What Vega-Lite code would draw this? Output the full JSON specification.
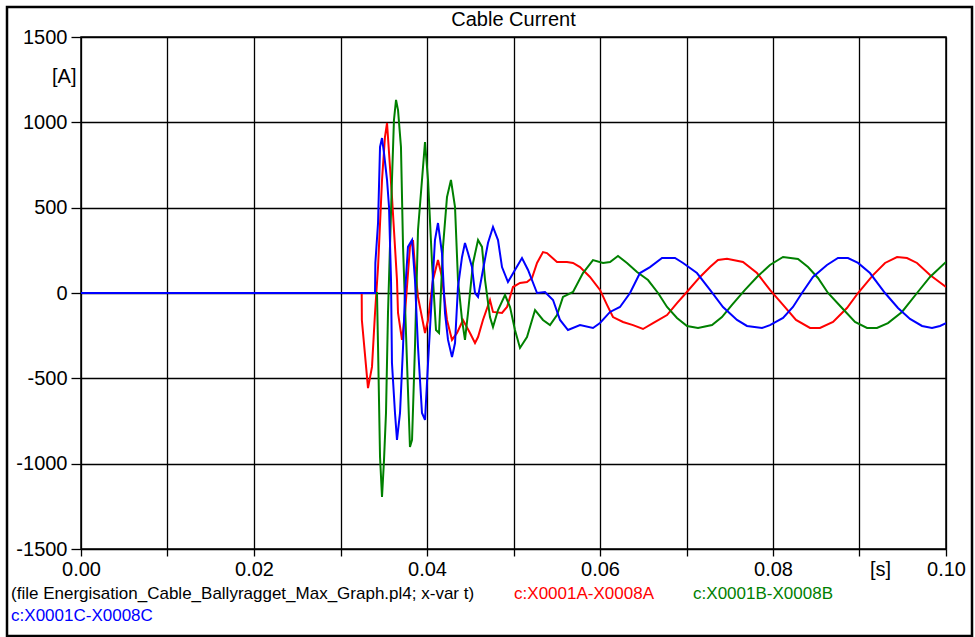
{
  "$schema": "https://vega.github.io/schema/vega-lite/v6.json",
  "width": 865,
  "height": 512,
  "autosize": {"type": "none"},
  "padding": {"left": 81, "top": 37, "right": 29, "bottom": 88},
  "background": "#ffffff",
  "config": {
    "font": "Liberation Sans",
    "view": {"stroke": "#000000", "strokeWidth": 1.5}
  },
  "title": {
    "text": "Cable Current",
    "font": "Liberation Sans",
    "fontSize": 20,
    "fontWeight": "normal",
    "color": "#000000",
    "anchor": "middle",
    "frame": "group",
    "baseline": "bottom",
    "offset": 8,
    "dy": 52
  },
  "datasets": {
    "currents": [
      {"t": 0, "i": 0, "c": "A"},
      {"t": 0.03245, "i": 0, "c": "A"},
      {"t": 0.03247, "i": -158, "c": "A"},
      {"t": 0.03318, "i": -557, "c": "A"},
      {"t": 0.03364, "i": -433, "c": "A"},
      {"t": 0.03399, "i": -117, "c": "A"},
      {"t": 0.03434, "i": 152, "c": "A"},
      {"t": 0.0348, "i": 662, "c": "A"},
      {"t": 0.03514, "i": 914, "c": "A"},
      {"t": 0.03538, "i": 996, "c": "A"},
      {"t": 0.03572, "i": 738, "c": "A"},
      {"t": 0.03595, "i": 563, "c": "A"},
      {"t": 0.03653, "i": 76, "c": "A"},
      {"t": 0.03665, "i": -117, "c": "A"},
      {"t": 0.03711, "i": -275, "c": "A"},
      {"t": 0.03746, "i": -117, "c": "A"},
      {"t": 0.03803, "i": 270, "c": "A"},
      {"t": 0.03838, "i": 310, "c": "A"},
      {"t": 0.03861, "i": 152, "c": "A"},
      {"t": 0.03896, "i": -23, "c": "A"},
      {"t": 0.03977, "i": -234, "c": "A"},
      {"t": 0.04012, "i": -158, "c": "A"},
      {"t": 0.04069, "i": 76, "c": "A"},
      {"t": 0.04127, "i": 193, "c": "A"},
      {"t": 0.04173, "i": 94, "c": "A"},
      {"t": 0.04231, "i": -158, "c": "A"},
      {"t": 0.04289, "i": -275, "c": "A"},
      {"t": 0.04347, "i": -234, "c": "A"},
      {"t": 0.04416, "i": -158, "c": "A"},
      {"t": 0.04497, "i": -234, "c": "A"},
      {"t": 0.04555, "i": -293, "c": "A"},
      {"t": 0.0459, "i": -258, "c": "A"},
      {"t": 0.04647, "i": -158, "c": "A"},
      {"t": 0.04728, "i": -41, "c": "A"},
      {"t": 0.04763, "i": -111, "c": "A"},
      {"t": 0.04867, "i": -117, "c": "A"},
      {"t": 0.04925, "i": -82, "c": "A"},
      {"t": 0.0496, "i": -23, "c": "A"},
      {"t": 0.04994, "i": 35, "c": "A"},
      {"t": 0.05075, "i": 59, "c": "A"},
      {"t": 0.05156, "i": 64, "c": "A"},
      {"t": 0.05214, "i": 88, "c": "A"},
      {"t": 0.05272, "i": 176, "c": "A"},
      {"t": 0.05341, "i": 240, "c": "A"},
      {"t": 0.05387, "i": 234, "c": "A"},
      {"t": 0.05503, "i": 182, "c": "A"},
      {"t": 0.05618, "i": 182, "c": "A"},
      {"t": 0.05688, "i": 176, "c": "A"},
      {"t": 0.05769, "i": 152, "c": "A"},
      {"t": 0.05884, "i": 94, "c": "A"},
      {"t": 0.06, "i": 18, "c": "A"},
      {"t": 0.06081, "i": -70, "c": "A"},
      {"t": 0.0615, "i": -141, "c": "A"},
      {"t": 0.06266, "i": -170, "c": "A"},
      {"t": 0.06382, "i": -188, "c": "A"},
      {"t": 0.06497, "i": -211, "c": "A"},
      {"t": 0.06613, "i": -176, "c": "A"},
      {"t": 0.06775, "i": -129, "c": "A"},
      {"t": 0.0689, "i": -59, "c": "A"},
      {"t": 0.06994, "i": 0, "c": "A"},
      {"t": 0.07156, "i": 94, "c": "A"},
      {"t": 0.07272, "i": 152, "c": "A"},
      {"t": 0.07364, "i": 193, "c": "A"},
      {"t": 0.07468, "i": 200, "c": "A"},
      {"t": 0.07653, "i": 182, "c": "A"},
      {"t": 0.07815, "i": 117, "c": "A"},
      {"t": 0.07965, "i": 18, "c": "A"},
      {"t": 0.08116, "i": -70, "c": "A"},
      {"t": 0.08266, "i": -158, "c": "A"},
      {"t": 0.08428, "i": -205, "c": "A"},
      {"t": 0.08543, "i": -205, "c": "A"},
      {"t": 0.08694, "i": -170, "c": "A"},
      {"t": 0.08855, "i": -88, "c": "A"},
      {"t": 0.08983, "i": 0, "c": "A"},
      {"t": 0.09156, "i": 105, "c": "A"},
      {"t": 0.09295, "i": 176, "c": "A"},
      {"t": 0.09434, "i": 211, "c": "A"},
      {"t": 0.09549, "i": 205, "c": "A"},
      {"t": 0.09665, "i": 176, "c": "A"},
      {"t": 0.09815, "i": 105, "c": "A"},
      {"t": 0.1, "i": 35, "c": "A"},

      {"t": 0, "i": 0, "c": "B"},
      {"t": 0.03422, "i": 0, "c": "B"},
      {"t": 0.03434, "i": -316, "c": "B"},
      {"t": 0.03457, "i": -961, "c": "B"},
      {"t": 0.0348, "i": -1195, "c": "B"},
      {"t": 0.03503, "i": -979, "c": "B"},
      {"t": 0.03526, "i": -703, "c": "B"},
      {"t": 0.03549, "i": -117, "c": "B"},
      {"t": 0.03595, "i": 662, "c": "B"},
      {"t": 0.03618, "i": 1014, "c": "B"},
      {"t": 0.03642, "i": 1131, "c": "B"},
      {"t": 0.03665, "i": 1072, "c": "B"},
      {"t": 0.03699, "i": 856, "c": "B"},
      {"t": 0.03723, "i": 270, "c": "B"},
      {"t": 0.03769, "i": -410, "c": "B"},
      {"t": 0.03803, "i": -902, "c": "B"},
      {"t": 0.03827, "i": -861, "c": "B"},
      {"t": 0.03861, "i": -316, "c": "B"},
      {"t": 0.03896, "i": 369, "c": "B"},
      {"t": 0.03942, "i": 662, "c": "B"},
      {"t": 0.03977, "i": 885, "c": "B"},
      {"t": 0.04012, "i": 662, "c": "B"},
      {"t": 0.04058, "i": 176, "c": "B"},
      {"t": 0.04104, "i": -217, "c": "B"},
      {"t": 0.04139, "i": -234, "c": "B"},
      {"t": 0.04185, "i": 270, "c": "B"},
      {"t": 0.04231, "i": 562, "c": "B"},
      {"t": 0.04277, "i": 662, "c": "B"},
      {"t": 0.04324, "i": 504, "c": "B"},
      {"t": 0.04358, "i": 76, "c": "B"},
      {"t": 0.04405, "i": -158, "c": "B"},
      {"t": 0.04439, "i": -275, "c": "B"},
      {"t": 0.04474, "i": -117, "c": "B"},
      {"t": 0.04532, "i": 176, "c": "B"},
      {"t": 0.0459, "i": 310, "c": "B"},
      {"t": 0.04636, "i": 270, "c": "B"},
      {"t": 0.04671, "i": 76, "c": "B"},
      {"t": 0.04728, "i": -141, "c": "B"},
      {"t": 0.04763, "i": -199, "c": "B"},
      {"t": 0.04821, "i": -100, "c": "B"},
      {"t": 0.04902, "i": -12, "c": "B"},
      {"t": 0.0496, "i": -82, "c": "B"},
      {"t": 0.05017, "i": -217, "c": "B"},
      {"t": 0.05075, "i": -322, "c": "B"},
      {"t": 0.05156, "i": -258, "c": "B"},
      {"t": 0.05249, "i": -100, "c": "B"},
      {"t": 0.05341, "i": -158, "c": "B"},
      {"t": 0.05422, "i": -188, "c": "B"},
      {"t": 0.05503, "i": -129, "c": "B"},
      {"t": 0.05572, "i": -23, "c": "B"},
      {"t": 0.05688, "i": 6, "c": "B"},
      {"t": 0.05803, "i": 117, "c": "B"},
      {"t": 0.05919, "i": 193, "c": "B"},
      {"t": 0.06035, "i": 176, "c": "B"},
      {"t": 0.06116, "i": 182, "c": "B"},
      {"t": 0.06208, "i": 217, "c": "B"},
      {"t": 0.06312, "i": 176, "c": "B"},
      {"t": 0.06428, "i": 123, "c": "B"},
      {"t": 0.06555, "i": 76, "c": "B"},
      {"t": 0.06671, "i": 0, "c": "B"},
      {"t": 0.06775, "i": -82, "c": "B"},
      {"t": 0.0689, "i": -146, "c": "B"},
      {"t": 0.07006, "i": -193, "c": "B"},
      {"t": 0.07133, "i": -205, "c": "B"},
      {"t": 0.07295, "i": -188, "c": "B"},
      {"t": 0.0741, "i": -141, "c": "B"},
      {"t": 0.07526, "i": -70, "c": "B"},
      {"t": 0.07676, "i": 18, "c": "B"},
      {"t": 0.07815, "i": 94, "c": "B"},
      {"t": 0.07965, "i": 164, "c": "B"},
      {"t": 0.08116, "i": 211, "c": "B"},
      {"t": 0.08289, "i": 199, "c": "B"},
      {"t": 0.08405, "i": 152, "c": "B"},
      {"t": 0.0852, "i": 88, "c": "B"},
      {"t": 0.08636, "i": 0, "c": "B"},
      {"t": 0.08798, "i": -88, "c": "B"},
      {"t": 0.08948, "i": -170, "c": "B"},
      {"t": 0.09087, "i": -205, "c": "B"},
      {"t": 0.09202, "i": -205, "c": "B"},
      {"t": 0.09329, "i": -176, "c": "B"},
      {"t": 0.09491, "i": -111, "c": "B"},
      {"t": 0.09665, "i": 0, "c": "B"},
      {"t": 0.09815, "i": 94, "c": "B"},
      {"t": 0.1, "i": 182, "c": "B"},

      {"t": 0, "i": 0, "c": "C"},
      {"t": 0.03399, "i": 0, "c": "C"},
      {"t": 0.03403, "i": 176, "c": "C"},
      {"t": 0.03434, "i": 410, "c": "C"},
      {"t": 0.03457, "i": 856, "c": "C"},
      {"t": 0.0348, "i": 908, "c": "C"},
      {"t": 0.03503, "i": 820, "c": "C"},
      {"t": 0.03538, "i": 662, "c": "C"},
      {"t": 0.03561, "i": 504, "c": "C"},
      {"t": 0.03584, "i": 76, "c": "C"},
      {"t": 0.03595, "i": -410, "c": "C"},
      {"t": 0.0363, "i": -703, "c": "C"},
      {"t": 0.03653, "i": -861, "c": "C"},
      {"t": 0.03688, "i": -703, "c": "C"},
      {"t": 0.03723, "i": -316, "c": "C"},
      {"t": 0.03746, "i": 0, "c": "C"},
      {"t": 0.0378, "i": 270, "c": "C"},
      {"t": 0.03827, "i": 310, "c": "C"},
      {"t": 0.03861, "i": 76, "c": "C"},
      {"t": 0.03896, "i": -316, "c": "C"},
      {"t": 0.03942, "i": -703, "c": "C"},
      {"t": 0.03977, "i": -744, "c": "C"},
      {"t": 0.04012, "i": -410, "c": "C"},
      {"t": 0.04058, "i": 0, "c": "C"},
      {"t": 0.04092, "i": 310, "c": "C"},
      {"t": 0.04127, "i": 410, "c": "C"},
      {"t": 0.04173, "i": 234, "c": "C"},
      {"t": 0.04208, "i": -117, "c": "C"},
      {"t": 0.04243, "i": -275, "c": "C"},
      {"t": 0.04289, "i": -375, "c": "C"},
      {"t": 0.04324, "i": -293, "c": "C"},
      {"t": 0.04358, "i": 35, "c": "C"},
      {"t": 0.04405, "i": 211, "c": "C"},
      {"t": 0.04439, "i": 293, "c": "C"},
      {"t": 0.04474, "i": 234, "c": "C"},
      {"t": 0.0452, "i": 152, "c": "C"},
      {"t": 0.04555, "i": 0, "c": "C"},
      {"t": 0.0459, "i": -23, "c": "C"},
      {"t": 0.04647, "i": 135, "c": "C"},
      {"t": 0.04705, "i": 293, "c": "C"},
      {"t": 0.04763, "i": 387, "c": "C"},
      {"t": 0.04821, "i": 310, "c": "C"},
      {"t": 0.04867, "i": 152, "c": "C"},
      {"t": 0.04936, "i": 64, "c": "C"},
      {"t": 0.05017, "i": 135, "c": "C"},
      {"t": 0.05098, "i": 205, "c": "C"},
      {"t": 0.05168, "i": 135, "c": "C"},
      {"t": 0.05272, "i": 0, "c": "C"},
      {"t": 0.05364, "i": 6, "c": "C"},
      {"t": 0.05457, "i": -41, "c": "C"},
      {"t": 0.05538, "i": -158, "c": "C"},
      {"t": 0.0563, "i": -217, "c": "C"},
      {"t": 0.05769, "i": -188, "c": "C"},
      {"t": 0.05919, "i": -205, "c": "C"},
      {"t": 0.06, "i": -176, "c": "C"},
      {"t": 0.06116, "i": -111, "c": "C"},
      {"t": 0.06231, "i": -82, "c": "C"},
      {"t": 0.06347, "i": 0, "c": "C"},
      {"t": 0.06462, "i": 117, "c": "C"},
      {"t": 0.06578, "i": 152, "c": "C"},
      {"t": 0.06717, "i": 205, "c": "C"},
      {"t": 0.06867, "i": 205, "c": "C"},
      {"t": 0.0696, "i": 176, "c": "C"},
      {"t": 0.07121, "i": 117, "c": "C"},
      {"t": 0.07272, "i": 18, "c": "C"},
      {"t": 0.07422, "i": -82, "c": "C"},
      {"t": 0.07584, "i": -158, "c": "C"},
      {"t": 0.07699, "i": -193, "c": "C"},
      {"t": 0.07873, "i": -205, "c": "C"},
      {"t": 0.07965, "i": -188, "c": "C"},
      {"t": 0.08116, "i": -146, "c": "C"},
      {"t": 0.08231, "i": -82, "c": "C"},
      {"t": 0.08335, "i": 0, "c": "C"},
      {"t": 0.08462, "i": 94, "c": "C"},
      {"t": 0.08624, "i": 164, "c": "C"},
      {"t": 0.08751, "i": 205, "c": "C"},
      {"t": 0.08867, "i": 205, "c": "C"},
      {"t": 0.08983, "i": 176, "c": "C"},
      {"t": 0.09121, "i": 117, "c": "C"},
      {"t": 0.09295, "i": 0, "c": "C"},
      {"t": 0.09445, "i": -88, "c": "C"},
      {"t": 0.09584, "i": -152, "c": "C"},
      {"t": 0.09723, "i": -193, "c": "C"},
      {"t": 0.09838, "i": -205, "c": "C"},
      {"t": 0.09931, "i": -193, "c": "C"},
      {"t": 0.1, "i": -176, "c": "C"}
    ]
  },
  "layer": [
    {
      "data": {"values": [{"frame": "border"}]},
      "mark": {"type": "rect", "filled": false, "stroke": "#000000", "strokeWidth": 2.5},
      "encoding": {
        "x": {"value": -74},
        "x2": {"value": 891},
        "y": {"value": -30},
        "y2": {"value": 599}
      }
    },
    {
      "data": {"name": "currents"},
      "mark": {"type": "line", "strokeWidth": 2, "clip": true, "interpolate": "linear"},
      "encoding": {
        "x": {
          "field": "t",
          "type": "quantitative",
          "scale": {"domain": [0, 0.1], "nice": false, "zero": false},
          "axis": {
            "values": [0, 0.01, 0.02, 0.03, 0.04, 0.05, 0.06, 0.07, 0.08, 0.09, 0.1],
            "labelExpr": "round(datum.value * 100) % 2 == 0 ? format(datum.value, '.2f') : ''",
            "grid": true,
            "gridColor": "#000000",
            "gridWidth": 1.3,
            "gridOpacity": 1,
            "domain": false,
            "ticks": true,
            "tickColor": "#000000",
            "tickWidth": 1.3,
            "tickSize": 7,
            "labelFont": "Liberation Sans",
            "labelFontSize": 20,
            "labelColor": "#000000",
            "labelPadding": 3,
            "labelFlush": false,
            "labelOverlap": false,
            "title": "[s]",
            "titleFont": "Liberation Sans",
            "titleFontSize": 20,
            "titleFontWeight": "normal",
            "titleColor": "#000000",
            "titleX": 799,
            "titleY": 10,
            "titleAlign": "center",
            "titleBaseline": "top"
          }
        },
        "y": {
          "field": "i",
          "type": "quantitative",
          "scale": {"domain": [-1500, 1500], "nice": false, "zero": false},
          "axis": {
            "values": [-1500, -1000, -500, 0, 500, 1000, 1500],
            "labelExpr": "'' + datum.value",
            "grid": true,
            "gridColor": "#000000",
            "gridWidth": 1.3,
            "gridOpacity": 1,
            "domain": false,
            "tickColor": "#000000",
            "tickWidth": 1.3,
            "tickSize": 10,
            "labelFont": "Liberation Sans",
            "labelFontSize": 20,
            "labelColor": "#000000",
            "labelPadding": 4,
            "labelFlush": false,
            "labelOverlap": false,
            "title": "[A]",
            "titleFont": "Liberation Sans",
            "titleFontSize": 20,
            "titleFontWeight": "normal",
            "titleColor": "#000000",
            "titleAngle": 0,
            "titleX": -5,
            "titleY": 39,
            "titleAlign": "right",
            "titleBaseline": "middle"
          }
        },
        "color": {
          "field": "c",
          "type": "nominal",
          "scale": {
            "domain": ["F", "A", "B", "C"],
            "range": ["#000000", "#ff0000", "#008000", "#0000ff"]
          },
          "legend": {
            "orient": "none",
            "legendX": -87,
            "legendY": 548,
            "direction": "horizontal",
            "columns": 3,
            "gridAlign": "each",
            "columnPadding": 22,
            "rowPadding": 4,
            "padding": 0,
            "title": null,
            "symbolSize": 1,
            "symbolOpacity": 0,
            "symbolStrokeWidth": 0.1,
            "labelOffset": 0.1,
            "labelLimit": 0,
            "labelFont": "Liberation Sans",
            "labelFontSize": 17,
            "labelExpr": "datum.value == 'F' ? '(file Energisation_Cable_Ballyragget_Max_Graph.pl4; x-var t)' : 'c:X0001' + datum.value + '-X0008' + datum.value",
            "labelColor": {"expr": "datum.value == 'A' ? '#ff0000' : datum.value == 'B' ? '#008000' : datum.value == 'C' ? '#0000ff' : '#000000'"}
          }
        }
      }
    }
  ]
}
